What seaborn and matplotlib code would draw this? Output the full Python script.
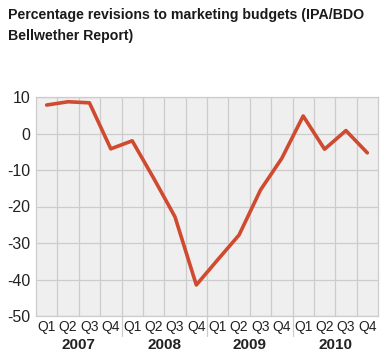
import numpy as np
import pandas as pd
import matplotlib
matplotlib.use('Agg')
import matplotlib.pyplot as plt
import seaborn as sns

# values
quarters = ['Q1', 'Q2', 'Q3', 'Q4'] * 4
years = ['2007', '2008', '2009', '2010']
revisions = [7.8, 8.7, 8.4, -4.2, -2.0, -12.2, -22.8, -41.5,
             -34.6, -27.8, -15.5, -6.8, 4.8, -4.3, 0.8, -5.3]

df = pd.DataFrame({'pos': np.arange(len(revisions)), 'revision': revisions})

sns.set_style('white')
plt.rcParams['font.family'] = ['Liberation Sans', 'DejaVu Sans']
plt.rcParams['axes.unicode_minus'] = False

fig = plt.figure(figsize=(3.91, 3.60), dpi=100)
ax = fig.add_axes([36 / 391, 1 - 316 / 360, 342 / 391, 219 / 360])
ax.set_facecolor('#efefef')

sns.lineplot(x='pos', y='revision', data=df, color='#cf4a2f', linewidth=2.6, ax=ax)

ax.set_xlim(-0.5, 15.5)
ax.set_ylim(-50, 10)
ax.set_yticks(range(-50, 11, 10))
ax.set_xticks(df['pos'])
ax.set_xticklabels(quarters, fontsize=10, color='#222222')
ax.set_xticks(np.arange(0.5, 15, 1), minor=True)
ax.tick_params(axis='both', which='both', length=0)
ax.tick_params(axis='y', labelsize=11.5, labelcolor='#222222', pad=4)
ax.tick_params(axis='x', pad=3)
ax.grid(axis='y', which='major', color='#cccccc', linewidth=0.9)
ax.grid(axis='x', which='minor', color='#cccccc', linewidth=0.9)
ax.set_axisbelow(True)
for s in ax.spines.values():
    s.set_color('#cccccc')
    s.set_linewidth(0.9)
ax.set_xlabel('')
ax.set_ylabel('')

# year labels and separators under the quarter ticks
for i, yr in enumerate(years):
    ax.text(i * 4 + 1.5, -0.1, yr, transform=ax.get_xaxis_transform(),
            ha='center', va='top', fontsize=11, fontweight='bold', color='#222222')
    if i > 0:
        ax.plot([i * 4 - 0.5, i * 4 - 0.5], [0, -0.09], transform=ax.get_xaxis_transform(),
                color='#cccccc', linewidth=0.9, clip_on=False)

fig.text(8 / 391, 1 - 8 / 360, 'Percentage revisions to marketing budgets (IPA/BDO\nBellwether Report)',
         ha='left', va='top', fontsize=10.2, fontweight='bold', color='#1a1a1a', linespacing=1.6)

fig.savefig('out.png', dpi=100)
